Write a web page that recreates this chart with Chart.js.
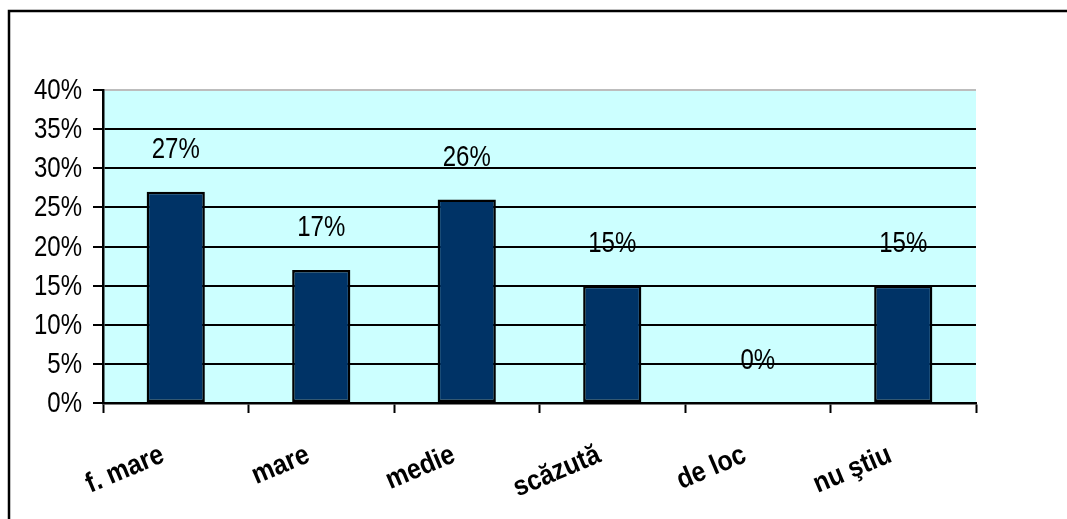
<!DOCTYPE html>
<html>
<head>
<meta charset="utf-8">
<script src="https://cdn.jsdelivr.net/npm/chart.js@4/dist/chart.umd.min.js"></script>
<style>
    html, body { margin: 0; padding: 0; background: #fff; overflow: hidden; }
    #wrap { width: 1067px; height: 519px; position: relative; }
</style>
</head>
<body>
<div id="wrap"><canvas id="chart" width="1067" height="519"></canvas></div>
<script>
// Chart data
const categories = ['f. mare', 'mare', 'medie', 'scăzută', 'de loc', 'nu ştiu'];
const values = [27, 17, 26, 15, 0, 15];
const yTicks = [0, 5, 10, 15, 20, 25, 30, 35, 40];

const FONT = "'Liberation Sans', Arial, sans-serif";

// Draws one piece of text, rotated first and then stretched along its own height
function stretchedText(ctx, text, x, y, align, angle, stretch) {
    ctx.save();
    ctx.translate(x, y);
    if (angle) ctx.rotate(angle);
    ctx.scale(1, stretch);
    ctx.textAlign = align;
    ctx.textBaseline = 'alphabetic';
    ctx.fillText(text, 0, 0);
    ctx.restore();
}

// Cyan plot background and outer frame
const backgroundPlugin = {
    id: 'plotBackground',
    beforeDraw(chart) {
        const { ctx, chartArea } = chart;
        ctx.save();
        ctx.fillStyle = '#ffffff';
        ctx.fillRect(0, 0, chart.width, chart.height);
        ctx.fillStyle = '#ccffff';
        ctx.fillRect(chartArea.left, chartArea.top, chartArea.right - chartArea.left, chartArea.bottom - chartArea.top);
        ctx.strokeStyle = '#000';
        ctx.lineWidth = 2.5;
        ctx.beginPath();
        ctx.moveTo(9, chart.height + 5);
        ctx.lineTo(9, 11);
        ctx.lineTo(chart.width + 5, 11);
        ctx.stroke();
        ctx.restore();
    }
};

// Tick labels and percent labels above each bar
const labelPlugin = {
    id: 'textLabels',
    afterDraw(chart) {
        const { ctx } = chart;
        const xScale = chart.scales.x;
        const yScale = chart.scales.y;
        const meta = chart.getDatasetMeta(0);
        ctx.save();
        ctx.fillStyle = '#000';

        // y axis labels
        ctx.font = '24px ' + FONT;
        yTicks.forEach(v => {
            const py = yScale.getPixelForValue(v);
            stretchedText(ctx, v + '%', yScale.right - 21, py + 9, 'right', 0, 1.25);
        });

        // value labels
        meta.data.forEach((bar, i) => {
            stretchedText(ctx, values[i] + '%', bar.x, bar.y - 34, 'center', 0, 1.25);
        });

        // category labels, rotated
        ctx.font = 'bold 25px ' + FONT;
        const angle = -23 * Math.PI / 180;
        categories.forEach((c, i) => {
            const px = xScale.getPixelForTick(i);
            stretchedText(ctx, c, px - 10, xScale.top + 58, 'right', angle, 1.12);
        });
        ctx.restore();
    }
};

new Chart(document.getElementById('chart'), {
    type: 'bar',
    data: {
        labels: categories,
        datasets: [{
            data: values,
            backgroundColor: '#003366',
            borderColor: '#000000',
            borderWidth: 2.5,
            borderSkipped: false,
            categoryPercentage: 1.0,
            barPercentage: 0.4
        }]
    },
    options: {
        responsive: false,
        animation: false,
        layout: {
            padding: { left: 0, right: 91, top: 90, bottom: 0 }
        },
        plugins: {
            legend: { display: false },
            title: { display: false },
            tooltip: { enabled: false }
        },
        scales: {
            x: {
                grid: {
                    offset: true,
                    drawOnChartArea: false,
                    drawTicks: true,
                    tickLength: 10,
                    tickColor: '#000',
                    tickWidth: 2
                },
                border: { color: '#000', width: 2.5 },
                ticks: { display: false, autoSkip: false },
                afterFit(scale) {
                    scale.height = 116;
                }
            },
            y: {
                min: 0,
                max: 40,
                afterBuildTicks(scale) {
                    scale.ticks = yTicks.map(v => ({ value: v }));
                },
                grid: {
                    color: (c) => (c.tick && c.tick.value === 40) ? '#bdbdbd' : '#000',
                    lineWidth: 2,
                    drawTicks: true,
                    tickLength: 10,
                    tickColor: '#000',
                    tickWidth: 2
                },
                border: { color: '#000', width: 2.5 },
                ticks: { display: false },
                afterFit(scale) {
                    scale.width = 103;
                }
            }
        }
    },
    plugins: [backgroundPlugin, labelPlugin]
});
</script>
</body>
</html>
